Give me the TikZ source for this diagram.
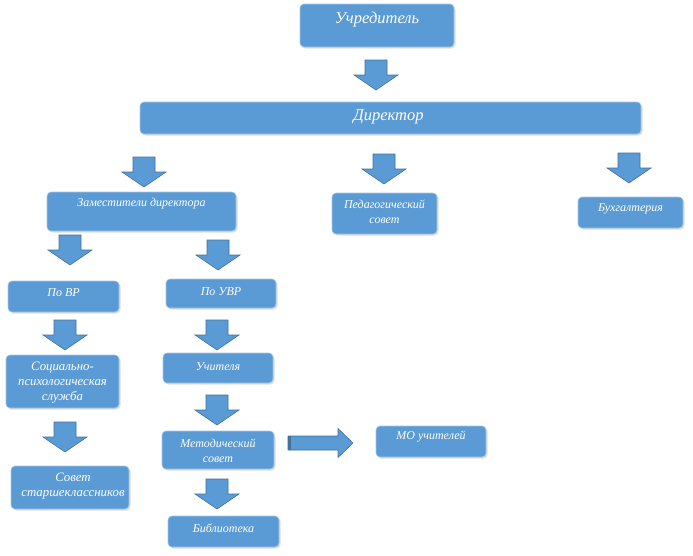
\documentclass[tikz,border=0pt]{standalone}
\usepackage{fontspec}
\setmainfont{Liberation Serif}
\usetikzlibrary{calc,shadows}
\definecolor{boxblue}{HTML}{5B9BD5}
\definecolor{arrowedge}{HTML}{41719C}
\tikzset{
  box/.style={fill=boxblue, draw=boxblue!55!white, line width=0.6pt, rounded corners=4pt, inner sep=0pt,
    drop shadow={shadow xshift=1.5pt, shadow yshift=-1.5pt, fill=black!35, opacity=0.35}},
  txt/.style={text=white, font=\itshape\fontsize{12}{15}\selectfont, align=center, inner sep=0pt},
  midtxt/.style={txt, font=\itshape\fontsize{12.8}{15}\selectfont},
  bigtxt/.style={txt, font=\itshape\fontsize{16.5}{19}\selectfont},
  arrowstyle/.style={fill=boxblue, draw=arrowedge, line width=0.6pt, line join=miter},
  downarrow/.pic={\draw[arrowstyle] (-11,0) -- (11,0) -- (11,15) -- (22,15) -- (0,30) -- (-22,15) -- (-11,15) -- cycle;},
  rightarrow/.pic={\draw[arrowstyle] (0,-7) -- (50,-7) -- (50,-14.5) -- (65,0) -- (50,14.5) -- (50,7) -- (0,7) -- cycle;
    \fill[arrowedge] (0,-7) rectangle (3,7);}
}
\begin{document}
\begin{tikzpicture}[x=1pt,y=-1pt]
\fill[white] (0,0) rectangle (693,555);
\useasboundingbox (0,0) rectangle (693,555);

% boxes
\node[box, minimum width=154pt, minimum height=43pt] (ucr) at (377,25.5) {};
\node[box, minimum width=501pt, minimum height=32pt] (dir) at (390.5,118) {};
\node[box, minimum width=189pt, minimum height=39pt] (zam) at (141.5,211.5) {};
\node[box, minimum width=105pt, minimum height=41pt] (ped) at (384.5,213.5) {};
\node[box, minimum width=105pt, minimum height=31pt] (buh) at (630.5,212.5) {};
\node[box, minimum width=111pt, minimum height=31pt] (povr) at (63.5,296.5) {};
\node[box, minimum width=110pt, minimum height=29pt] (puvr) at (221,293.5) {};
\node[box, minimum width=113pt, minimum height=53pt] (soc) at (62.5,381.5) {};
\node[box, minimum width=110pt, minimum height=30pt] (uch) at (218,368) {};
\node[box, minimum width=118pt, minimum height=43pt] (sov) at (70,487.5) {};
\node[box, minimum width=112pt, minimum height=38pt] (met) at (218,450) {};
\node[box, minimum width=111pt, minimum height=31pt] (bib) at (223.5,531.5) {};
\node[box, minimum width=110pt, minimum height=31pt] (mo) at (431,441.5) {};

% texts
\node[bigtxt] (tucr) at ($(ucr.center)+(0,-5.5)$) {Учредитель};
\node[bigtxt] (tdir) at ($(dir.center)+(-2,-1)$) {Директор};
\node[txt] (tzam) at ($(zam.center)+(0,-8)$) {Заместители директора};
\node[txt] (tped) at ($(ped.center)+(0,-1.5)$) {Педагогический\\совет};
\node[txt] (tbuh) at ($(buh.center)+(0,-3.5)$) {Бухгалтерия};
\node[txt] (tpovr) at ($(povr.center)+(0,-3.5)$) {По ВР};
\node[txt] (tpuvr) at ($(puvr.center)+(0,-1.5)$) {По УВР};
\node[midtxt] (tsoc) at ($(soc.center)+(0,1.5)$) {Социально-\\психологическая\\служба};
\node[txt] (tuch) at ($(uch.center)+(0,-1)$) {Учителя};
\node[midtxt] (tsov) at ($(sov.center)+(3,-1.5)$) {Совет\\старшеклассников};
\node[txt] (tmet) at ($(met.center)+(0,1)$) {Методический\\совет};
\node[txt] (tbib) at ($(bib.center)+(0,-3.5)$) {Библиотека};
\node[txt] (tmo) at ($(mo.center)+(0,-4.5)$) {МО учителей};

% block arrows
\pic (a1) at (376,60) {downarrow};
\pic (a2) at (144,157) {downarrow};
\pic (a3) at (384,154) {downarrow};
\pic (a4) at (629,153) {downarrow};
\pic (a5) at (70,235) {downarrow};
\pic (a6) at (218,240) {downarrow};
\pic (a7) at (65,320) {downarrow};
\pic (a8) at (217,320) {downarrow};
\pic (a9) at (65,422) {downarrow};
\pic (a10) at (217,395) {downarrow};
\pic (a11) at (217,479) {downarrow};
\pic (a12) at (288,443) {rightarrow};
\end{tikzpicture}
\end{document}
